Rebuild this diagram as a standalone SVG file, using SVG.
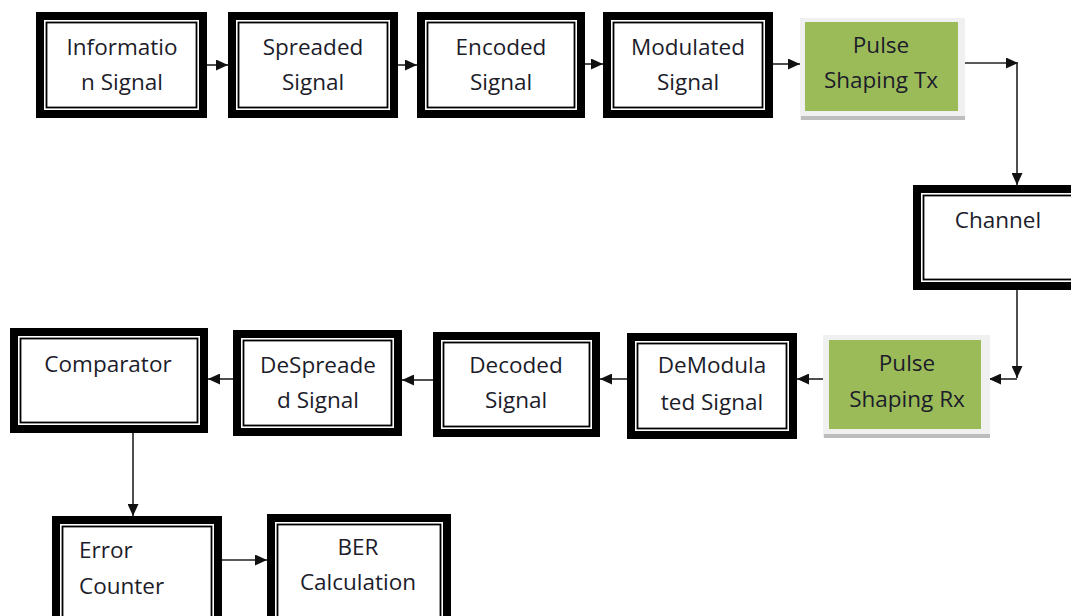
<svg xmlns="http://www.w3.org/2000/svg" width="1071" height="616" viewBox="0 0 1071 616">
  <defs>
    <marker id="arrow" markerUnits="userSpaceOnUse" markerWidth="13" markerHeight="11" refX="12" refY="5.5" orient="auto">
      <path d="M0,0 L12,5.5 L0,11 Z" fill="#111"/>
    </marker>
  </defs>
  <style>
    .outer { fill: #fff; stroke: #000; stroke-width: 8; }
    .inner { fill: none; stroke: #000; stroke-width: 1.8; }
    .frame { fill: #f0f0f0; }
    .shade { fill: #bdbdbd; }
    .green { fill: #9bbb59; }
    .label { font-family: "Open Sans", "Noto Sans", sans-serif; font-size: 22.5px; fill: #1c1c2a; text-anchor: middle; }
    .left { text-anchor: start; }
    .link { fill: none; stroke: #222; stroke-width: 1.6; }
  </style>
  <rect width="1071" height="616" fill="#fff"/>

  <!-- connectors -->
  <g id="connectors">
    <line class="link" x1="207" y1="65" x2="228" y2="65" marker-end="url(#arrow)"/>
    <line class="link" x1="398" y1="65" x2="417" y2="65" marker-end="url(#arrow)"/>
    <line class="link" x1="585" y1="64" x2="603" y2="64" marker-end="url(#arrow)"/>
    <line class="link" x1="773" y1="64" x2="800" y2="64" marker-end="url(#arrow)"/>
    <line class="link" x1="965" y1="63" x2="1018" y2="63" marker-end="url(#arrow)"/>
    <line class="link" x1="1017" y1="63" x2="1017" y2="185" marker-end="url(#arrow)"/>
    <line class="link" x1="1017" y1="290" x2="1017" y2="378" marker-end="url(#arrow)"/>
    <line class="link" x1="1017" y1="379" x2="989" y2="379" marker-end="url(#arrow)"/>
    <line class="link" x1="823" y1="379" x2="797" y2="379" marker-end="url(#arrow)"/>
    <line class="link" x1="627" y1="379" x2="600" y2="379" marker-end="url(#arrow)"/>
    <line class="link" x1="433" y1="380" x2="402" y2="380" marker-end="url(#arrow)"/>
    <line class="link" x1="233" y1="379" x2="208" y2="379" marker-end="url(#arrow)"/>
    <line class="link" x1="133" y1="433" x2="133" y2="516" marker-end="url(#arrow)"/>
    <line class="link" x1="222" y1="560" x2="267" y2="560" marker-end="url(#arrow)"/>
  </g>

  <!-- transmitter chain -->
  <g id="information-signal">
    <rect class="outer" x="40" y="16" width="163" height="98"/>
    <rect class="inner" x="46.5" y="22.5" width="150" height="85"/>
    <text class="label" x="122" y="55">Informatio</text>
    <text class="label" x="122" y="90">n Signal</text>
  </g>
  <g id="spreaded-signal">
    <rect class="outer" x="232" y="16" width="162" height="98"/>
    <rect class="inner" x="238.5" y="22.5" width="149" height="85"/>
    <text class="label" x="313" y="55">Spreaded</text>
    <text class="label" x="313" y="90">Signal</text>
  </g>
  <g id="encoded-signal">
    <rect class="outer" x="421" y="16" width="160" height="98"/>
    <rect class="inner" x="427.5" y="22.5" width="147" height="85"/>
    <text class="label" x="501" y="55">Encoded</text>
    <text class="label" x="501" y="90">Signal</text>
  </g>
  <g id="modulated-signal">
    <rect class="outer" x="607" y="16" width="162" height="98"/>
    <rect class="inner" x="613.5" y="22.5" width="149" height="85"/>
    <text class="label" x="688" y="55">Modulated</text>
    <text class="label" x="688" y="90">Signal</text>
  </g>
  <g id="pulse-shaping-tx">
    <rect class="frame" x="800" y="18" width="165" height="102"/>
    <rect class="shade" x="801" y="116" width="164" height="4"/>
    <rect class="green" x="805" y="22" width="153" height="89"/>
    <text class="label" x="881" y="53">Pulse</text>
    <text class="label" x="881" y="88">Shaping Tx</text>
  </g>

  <!-- channel -->
  <g id="channel">
    <rect class="outer" x="917" y="189" width="162" height="97"/>
    <rect class="inner" x="923.5" y="195.5" width="149" height="84"/>
    <text class="label" x="998" y="228">Channel</text>
  </g>

  <!-- receiver chain -->
  <g id="pulse-shaping-rx">
    <rect class="frame" x="823" y="335" width="167" height="103"/>
    <rect class="shade" x="824" y="434" width="166" height="4"/>
    <rect class="green" x="829" y="340" width="152" height="89"/>
    <text class="label" x="907" y="371">Pulse</text>
    <text class="label" x="907" y="407">Shaping Rx</text>
  </g>
  <g id="demodulated-signal">
    <rect class="outer" x="631" y="337" width="162" height="98"/>
    <rect class="inner" x="637.5" y="343.5" width="149" height="85"/>
    <text class="label" x="712" y="373">DeModula</text>
    <text class="label" x="712" y="410">ted Signal</text>
  </g>
  <g id="decoded-signal">
    <rect class="outer" x="437" y="336" width="159" height="97"/>
    <rect class="inner" x="443.5" y="342.5" width="146" height="84"/>
    <text class="label" x="516" y="373">Decoded</text>
    <text class="label" x="516" y="408">Signal</text>
  </g>
  <g id="despreaded-signal">
    <rect class="outer" x="237" y="334" width="161" height="98"/>
    <rect class="inner" x="243.5" y="340.5" width="148" height="85"/>
    <text class="label" x="318" y="373">DeSpreade</text>
    <text class="label" x="318" y="408">d Signal</text>
  </g>
  <g id="comparator">
    <rect class="outer" x="14" y="332" width="190" height="97"/>
    <rect class="inner" x="20.5" y="338.5" width="177" height="84"/>
    <text class="label" x="108" y="372">Comparator</text>
  </g>

  <!-- error statistics -->
  <g id="error-counter">
    <rect class="outer" x="56" y="520" width="162" height="110"/>
    <rect class="inner" x="62.5" y="526.5" width="149" height="100"/>
    <text class="label left" x="79" y="558">Error</text>
    <text class="label left" x="79" y="594">Counter</text>
  </g>
  <g id="ber-calculation">
    <rect class="outer" x="271" y="518" width="176" height="112"/>
    <rect class="inner" x="277.5" y="524.5" width="163" height="100"/>
    <text class="label" x="358" y="555">BER</text>
    <text class="label" x="358" y="590">Calculation</text>
  </g>
</svg>
